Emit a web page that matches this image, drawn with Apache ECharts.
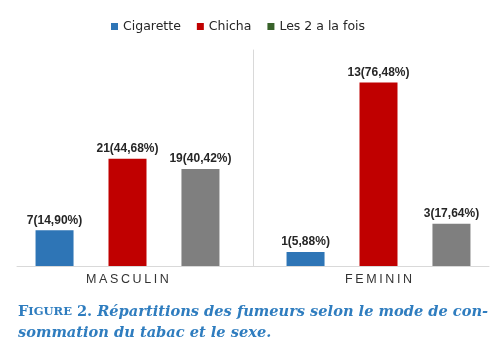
<!DOCTYPE html>
<html>
<head>
<meta charset="utf-8">
<script src="https://cdn.jsdelivr.net/npm/echarts@6/dist/echarts.min.js"></script>
<style>html,body{margin:0;padding:0;background:#fff;}#c{width:504px;height:356px;}</style>
</head>
<body>
<div id="c"></div>
<script>
const categories = ['MASCULIN', 'FEMININ'];
const seriesNames = ['Cigarette', 'Chicha', 'Les 2 a la fois'];
const cigarettePct = [14.90, 5.88];
const chichaPct = [44.68, 76.48];
const les2Pct = [40.42, 17.64];
const cigaretteN = [7, 1];
const chichaN = [21, 13];
const les2N = [19, 3];

const chart = echarts.init(document.getElementById('c'));
function fmtLabel(counts) {
  return p => counts[p.dataIndex] + '(' + p.value.toFixed(2).replace('.', ',') + '%)';
}
const labelStyle = (counts) => ({
  show: true, position: 'top', distance: 4,
  fontFamily: 'Liberation Sans', fontWeight: 'bold', fontSize: 12, color: '#262626',
  formatter: fmtLabel(counts)
});
chart.setOption({
  animation: false,
  backgroundColor: '#fff',
  title: {
    left: 13, top: 297,
    text: '{sc|F}{ss|IGURE} {sc|2.} {it|Répartitions des fumeurs selon le mode de con-}\n{it|sommation du tabac et le sexe.}',
    textStyle: {
      rich: {
        sc: { fontFamily: 'DejaVu Serif', fontWeight: 'bold', fontSize: 14.6, color: '#2f7dbf', lineHeight: 21 },
        ss: { fontFamily: 'DejaVu Serif', fontWeight: 'bold', fontSize: 11.5, color: '#2f7dbf', lineHeight: 21 },
        it: { fontFamily: 'DejaVu Serif', fontWeight: 'bold', fontStyle: 'italic', fontSize: 14.6, color: '#2f7dbf', lineHeight: 21 }
      }
    }
  },
  legend: {
    left: 106, top: 15,
    itemWidth: 7, itemHeight: 7, itemGap: 16, icon: 'rect',
    textStyle: { fontFamily: 'DejaVu Sans', fontSize: 12.5, color: '#262626' },
    data: [
      { name: seriesNames[0] },
      { name: seriesNames[1] },
      { name: seriesNames[2], itemStyle: { color: '#38622a' } }
    ]
  },
  grid: [
    { left: 2, right: 0, top: 50, bottom: 90 },
    { left: 17, right: 15, top: 50, bottom: 90 },
    { left: 253, right: 0, top: 50, bottom: 90 }
  ],
  xAxis: [
    {
      type: 'category', data: categories, gridIndex: 0,
      axisLine: { show: false }, axisTick: { show: false }, splitLine: { show: false },
      axisLabel: {
        margin: 7,
        formatter: (v) => v.split('').map(c => '{l|' + c + '}').join(''),
        rich: { l: { fontFamily: 'Liberation Sans', fontSize: 12.5, color: '#333', padding: [0, 1.3] } }
      }
    },
    {
      type: 'category', data: categories, gridIndex: 1,
      axisLine: { show: true, lineStyle: { color: '#d9d9d9', width: 1 } },
      axisTick: { show: false }, axisLabel: { show: false }, splitLine: { show: false }
    },
    { type: 'value', gridIndex: 2, show: false }
  ],
  yAxis: [
    { type: 'value', min: 0, max: 90, show: false, gridIndex: 0 },
    { type: 'value', show: false, gridIndex: 1 },
    {
      type: 'value', gridIndex: 2, show: true,
      axisLine: { show: true, lineStyle: { color: '#d9d9d9', width: 1 } },
      axisTick: { show: false }, axisLabel: { show: false }, splitLine: { show: false }
    }
  ],
  series: [
    { name: seriesNames[0], type: 'bar', data: cigarettePct, barWidth: 38, barGap: '92%', itemStyle: { color: '#2e75b6' }, label: labelStyle(cigaretteN) },
    { name: seriesNames[1], type: 'bar', data: chichaPct, barWidth: 38, barGap: '92%', itemStyle: { color: '#c00000' }, label: labelStyle(chichaN) },
    { name: seriesNames[2], type: 'bar', data: les2Pct, barWidth: 38, barGap: '92%', itemStyle: { color: '#7f7f7f' }, label: labelStyle(les2N) }
  ]
});
</script>
</body>
</html>
